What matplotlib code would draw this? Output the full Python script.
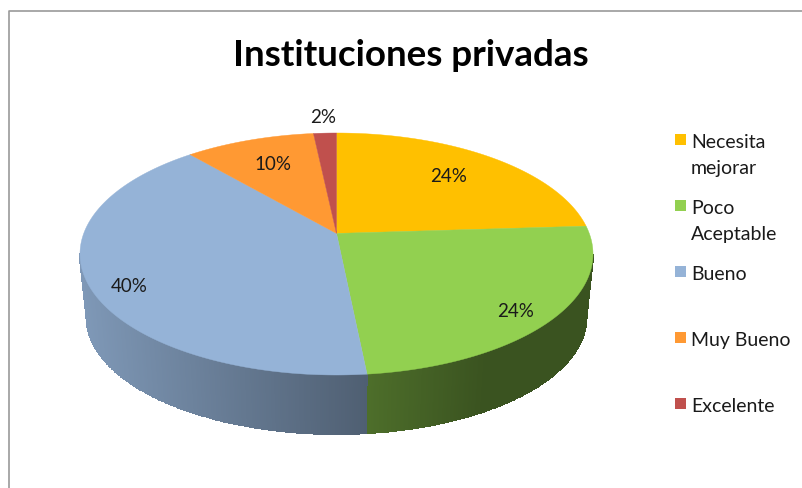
import numpy as np
import matplotlib
matplotlib.use("Agg")
import matplotlib.pyplot as plt
from matplotlib.lines import Line2D
from matplotlib.patches import Rectangle

title = "Instituciones privadas"
categories = ["Necesita\nmejorar", "Poco\nAceptable", "Bueno", "Muy Bueno", "Excelente"]
values = [24.0, 24.4, 40.27, 9.63, 1.7]
colors = ["#FFC000", "#92D050", "#95B3D7", "#FF9933", "#C0504D"]
label_radius = [0.72, 0.87, 0.865, 0.72, 1.2]
label_turn = [1.0, -2.5, 5.0, -0.5, 0.0]

W, H = 802, 489
CX, CY, RX, RY = 336.5, 255, 256.5, 121      # top ellipse in pixels
BOT_RX, BOT_RY, BOT_DY = 250 / RX, 117 / RY, 63 / RY   # wall bottom ellipse
K = 0.17   # perspective strength

plt.rcParams["font.family"] = ["Lato", "DejaVu Sans"]
fig = plt.figure(figsize=(W / 100, H / 100), dpi=100, facecolor="white")
ax = fig.add_axes([0, 0, 1, 1])
ax.set_xlim(-CX / RX, (W - CX) / RX)
ax.set_ylim((CY - H) / RY, CY / RY)
ax.axis("off")


def project(x, y):
    """Perspective of the tilted disc: maps the unit disc onto itself."""
    d = 1 + K * y
    return x * np.sqrt(1 - K ** 2) / d, (y + K) / d


edges = 90 - 360 * np.concatenate([[0], np.cumsum(values)]) / np.sum(values)

# side walls
for i, col in enumerate(colors):
    t = np.radians(np.linspace(edges[i], edges[i + 1], 400))
    x, y = project(np.cos(t), np.sin(t))
    keep = y <= 0
    if keep.sum() < 2:
        continue
    x, y = x[keep], y[keep]
    xb = x * BOT_RX
    yb = y * BOT_RY - BOT_DY
    X = np.vstack([x, xb])
    Y = np.vstack([y, yb])
    mid = 0.5 * (x[:-1] + x[1:])
    shade = np.maximum(0.40, 0.564 - 0.286 * mid)
    rgb = np.array(matplotlib.colors.to_rgb(col))
    C = (shade[:, None] * rgb)[None, :, :]
    ax.pcolormesh(X, Y, C, shading="flat", edgecolors="face", linewidth=0.3, zorder=1)

# top surface
apex = project(0.0, 0.0)
for i, col in enumerate(colors):
    t = np.radians(np.linspace(edges[i], edges[i + 1], 300))
    x, y = project(np.cos(t), np.sin(t))
    ax.fill(np.r_[apex[0], x], np.r_[apex[1], y], color=col, lw=0.3, zorder=2)

# value labels
for i, v in enumerate(values):
    t = np.radians(0.5 * (edges[i] + edges[i + 1]) + label_turn[i])
    r = label_radius[i]
    lx, ly = project(r * np.cos(t), r * np.sin(t))
    ax.text(lx, ly, f"{v:.0f}%", ha="center", va="center", fontsize=13.5,
            color="#1a1a1a", zorder=3)

# title
fig.text(410.5 / W, 1 - 56 / H, title, ha="center", va="center",
         fontsize=26.5, fontweight="bold", color="black")

# legend
for i, (cat, col) in enumerate(zip(categories, colors)):
    yc = 140 + 66 * i
    fig.add_artist(Rectangle((675 / W, 1 - (yc + 5.5) / H), 11 / W, 11 / H,
                             transform=fig.transFigure, facecolor=col, edgecolor="none"))
    fig.text(691 / W, 1 - (yc - 6) / H, cat, ha="left", va="top", fontsize=14,
             color="#1a1a1a", linespacing=1.65)

# chart frame (open to the right and bottom)
frame_x = [8.5 / W, 8.5 / W, 1.0]
frame_y = [0.0, 1 - 11.5 / H, 1 - 11.5 / H]
fig.add_artist(Line2D(frame_x, frame_y, transform=fig.transFigure, color="#9a9a9a", lw=1.2))

fig.savefig("out.png", dpi=100, facecolor="white")
